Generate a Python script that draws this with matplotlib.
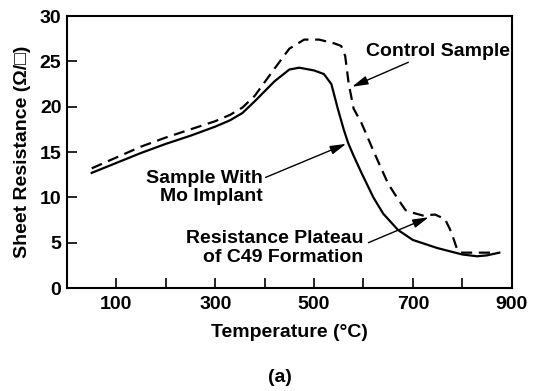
import matplotlib
matplotlib.use("Agg")
from matplotlib import pyplot as plt

# ---------------- data ----------------
mo_temp = [50, 100, 150, 200, 250, 300, 330, 355, 380, 420, 450, 470, 500, 520, 535, 548,
           560, 569, 580, 596, 620, 640, 670, 700, 750, 800, 830, 850, 875]
mo_res = [12.7, 13.8, 14.9, 15.9, 16.8, 17.8, 18.5, 19.3, 20.6, 22.8, 24.1, 24.3, 24.0, 23.6, 22.5, 19.8,
          17.5, 16.0, 14.6, 12.7, 10.0, 8.2, 6.4, 5.3, 4.4, 3.7, 3.5, 3.6, 3.9]

ctrl_temp = [50, 100, 150, 200, 250, 300, 330, 355, 380, 420, 450, 480, 510, 540, 555, 563,
             570, 580, 596, 622, 650, 670, 685, 700, 720, 745, 765, 775, 782, 790, 800, 866]
ctrl_res = [13.2, 14.4, 15.6, 16.6, 17.5, 18.4, 19.1, 19.9, 21.2, 24.2, 26.4, 27.4, 27.4, 27.0, 26.7, 25.6,
            22.6, 19.8, 18.2, 14.9, 11.5, 9.8, 8.6, 8.3, 8.0, 8.1, 7.6, 6.5, 5.5, 4.2, 3.9, 3.9]

x_ticks = [100, 200, 300, 400, 500, 600, 700, 800, 900]
x_labels = ['100', '', '300', '', '500', '', '700', '', '900']
y_ticks = [0, 5, 10, 15, 20, 25, 30]

plt.rcParams['font.family'] = ['Liberation Sans', 'DejaVu Sans']
plt.rcParams['font.weight'] = 'bold'
plt.rcParams['font.size'] = 14

fig = plt.figure(figsize=(5.37, 3.91), dpi=100)
ax = fig.add_axes([0.1248, 0.2634, 0.828, 0.6956])

ax.plot(mo_temp, mo_res, color='black', lw=1.6)
ax.plot(ctrl_temp, ctrl_res, color='black', lw=1.6, dashes=(5, 3))

ax.set_xlim(0, 900)
ax.set_ylim(0, 30)
ax.set_xticks(x_ticks)
ax.set_xticklabels(x_labels)
ax.set_yticks(y_ticks)
ax.tick_params(axis='both', direction='in', length=7, width=1.2, labelsize=14)
ax.tick_params(axis='x', pad=6)
ax.tick_params(axis='y', pad=4)
for s in ax.spines.values():
    s.set_linewidth(1.5)

ax.set_xlabel('Temperature (°C)', fontsize=14, fontweight='bold', labelpad=8)
ax.set_ylabel('Sheet Resistance (Ω/□)', fontsize=14, fontweight='bold', labelpad=6)

# ---------------- labels with arrows ----------------
arrow = dict(arrowstyle='-|>,head_length=0.8,head_width=0.22', color='black', lw=1.0,
             mutation_scale=12, shrinkA=0, shrinkB=0)

ax.text(750, 26.1, 'Control Sample', ha='center', va='center', fontsize=14, fontweight='bold')
ax.annotate('', xy=(577, 22.2), xytext=(691, 24.9), arrowprops=arrow)

ax.text(396, 11.1, 'Sample With\nMo Implant', ha='right', va='center',
        multialignment='right', fontsize=14, fontweight='bold', linespacing=1.1)
ax.annotate('', xy=(565, 15.9), xytext=(402, 12.2), arrowprops=arrow)

ax.text(600, 4.4, 'Resistance Plateau\nof C49 Formation', ha='right', va='center',
        multialignment='right', fontsize=14, fontweight='bold', linespacing=1.1)
ax.annotate('', xy=(732, 7.8), xytext=(610, 5.0), arrowprops=arrow)

fig.text(280 / 537, 1 - 378 / 391, '(a)', ha='center', va='center', fontsize=14, fontweight='bold')

fig.savefig('out.png', dpi=100)
